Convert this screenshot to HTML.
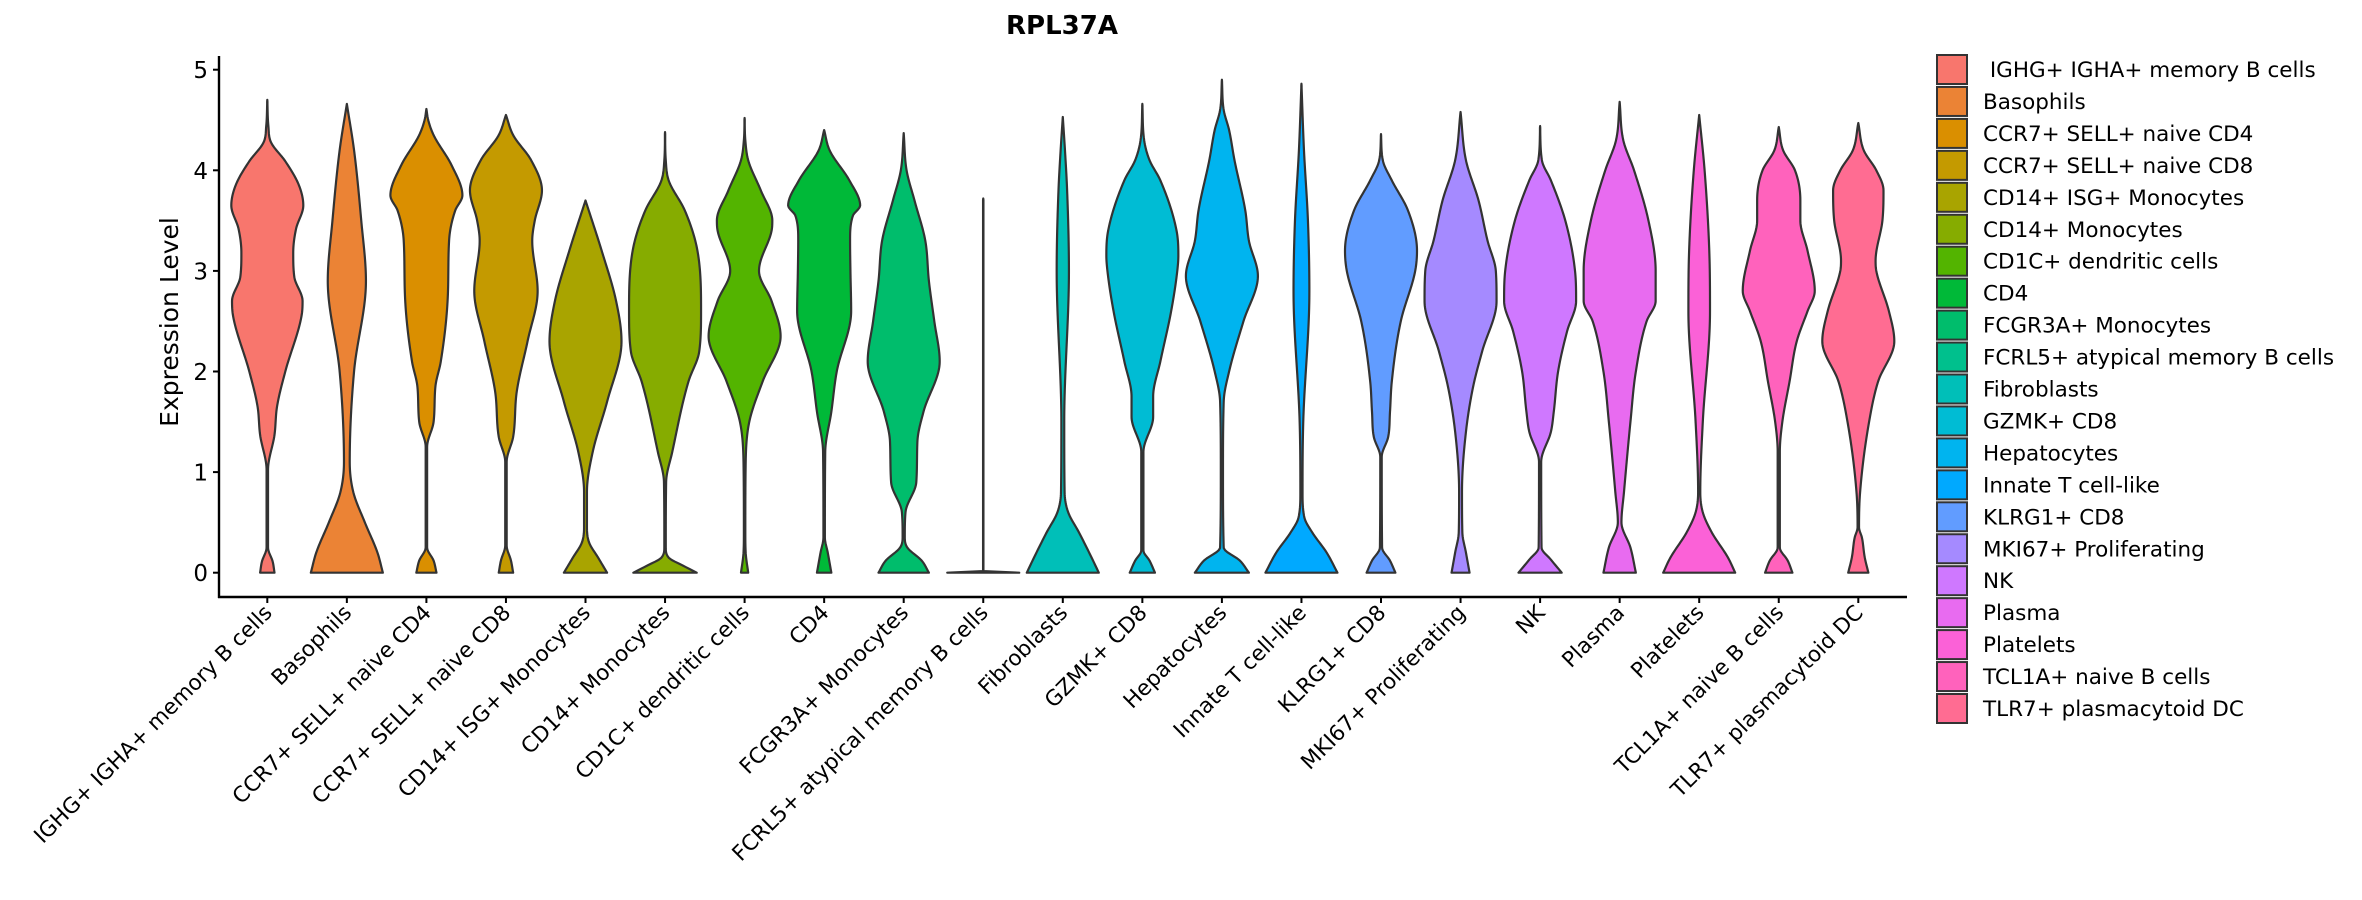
<!DOCTYPE html>
<html><head><meta charset="utf-8"><style>
html,body{margin:0;padding:0;background:#fff;}
svg{display:block;font-family:"DejaVu Sans","Liberation Sans",sans-serif;}
</style></head><body>
<svg id="chart" width="2362" height="900" viewBox="0 0 2362 900" xmlns="http://www.w3.org/2000/svg">
<text x="1062" y="34" text-anchor="middle" font-size="26" font-weight="bold" fill="#000">RPL37A</text>
<text transform="translate(178,322) rotate(-90)" text-anchor="middle" font-size="25" fill="#000">Expression Level</text>
<g id="plot"></g>
<g id="legend"></g>
</svg>
<script>
const categories = [" IGHG+ IGHA+ memory B cells","Basophils","CCR7+ SELL+ naive CD4","CCR7+ SELL+ naive CD8","CD14+ ISG+ Monocytes","CD14+ Monocytes","CD1C+ dendritic cells","CD4","FCGR3A+ Monocytes","FCRL5+ atypical memory B cells","Fibroblasts","GZMK+ CD8","Hepatocytes","Innate T cell-like","KLRG1+ CD8","MKI67+ Proliferating","NK","Plasma","Platelets","TCL1A+ naive B cells","TLR7+ plasmacytoid DC"];
const colors = ["#F8766D","#EB8335","#DA8F00","#C49A00","#A9A400","#86AC00","#53B400","#00B938","#00BD6C","#00C08D","#00BFB8","#00BCD4","#00B4EF","#00A9FF","#619CFF","#A58AFF","#CF78FF","#E86BF0","#FB61D7","#FF62BC","#FF6C92"];
const yTicks = [0,1,2,3,4,5];
// density profiles: [expression value, relative half-width]
const profiles = [
 [[0,.2],[.11,.15],[.25,.02],[1.02,.02],[1.37,.2],[1.65,.27],[2,.5],[2.55,.95],[2.7,.98],[2.94,.75],[3.18,.72],[3.42,.8],[3.65,1],[3.85,.88],[4.09,.5],[4.28,.1],[4.44,.03],[4.7,0]],
 [[0,1],[.2,.85],[.5,.5],[.8,.18],[1.1,.08],[2,.2],[2.9,.53],[3.5,.4],[4.2,.2],[4.66,0]],
 [[0,.28],[.12,.2],[.25,.02],[1.25,.02],[1.5,.2],[1.85,.25],[2.1,.4],[2.8,.6],[3.3,.63],[3.6,.8],[3.75,1],[4.05,.7],[4.35,.2],[4.5,.05],[4.61,0]],
 [[0,.2],[.12,.14],[.27,.02],[1.1,.02],[1.35,.2],[1.8,.3],[2.3,.6],[2.8,.88],[3.3,.73],[3.5,.8],[3.8,1],[4.1,.7],[4.35,.2],[4.55,0]],
 [[0,.6],[.15,.35],[.3,.1],[.45,.04],[.8,.04],[1.2,.2],[1.7,.6],[2.3,1],[2.7,.85],[3.2,.45],[3.7,0]],
 [[0,.88],[.07,.5],[.15,.1],[.25,.02],[.9,.03],[1.2,.2],[1.9,.65],[2.2,.95],[2.6,1],[3.2,.9],[3.6,.55],[3.9,.1],[4.1,.02],[4.38,0]],
 [[0,.1],[.2,.03],[.4,.02],[1.09,.03],[1.5,.13],[1.9,.5],[2.35,1],[2.7,.75],[3,.4],[3.4,.75],[3.5,.77],[3.8,.45],[4.1,.1],[4.3,.02],[4.52,0]],
 [[0,.2],[.2,.1],[.35,.02],[1.2,.03],[1.6,.2],[2,.35],[2.6,.75],[3,.73],[3.3,.72],[3.55,.8],[3.65,1],[3.9,.7],[4.2,.15],[4.4,0]],
 [[0,.7],[.12,.5],[.25,.1],[.35,.03],[.6,.05],[.9,.35],[1.3,.38],[1.6,.55],[2.1,1],[2.5,.85],[2.9,.7],[3.3,.6],[3.7,.3],[4,.08],[4.37,0]],
 [[0,1],[.005,.01],[.02,.005],[3.72,.005]],
 [[0,1],[.15,.8],[.4,.45],[.6,.15],[.8,.05],[1.5,.04],[3,.17],[3.8,.12],[4.2,.06],[4.53,0]],
 [[0,.35],[.12,.2],[.22,.03],[1.2,.03],[1.55,.3],[1.75,.3],[2.1,.5],[2.6,.8],[3,.97],[3.15,1],[3.4,.95],[3.9,.5],[4.1,.2],[4.3,.05],[4.66,0]],
 [[0,.75],[.12,.5],[.25,.05],[1,.03],[1.7,.05],[2,.2],[2.5,.6],[2.95,1],[3.3,.75],[3.6,.65],[4.1,.35],[4.4,.2],[4.6,.05],[4.9,0]],
 [[0,1],[.2,.7],[.4,.3],[.55,.08],[.8,.03],[1.5,.05],[2.8,.22],[3.5,.18],[4.2,.07],[4.86,0]],
 [[0,.4],[.12,.25],[.25,.03],[1.15,.02],[1.35,.2],[1.6,.25],[1.9,.3],[2.5,.55],[3,.95],[3.2,1],[3.6,.75],[3.9,.3],[4.1,.05],[4.36,0]],
 [[0,.25],[.2,.15],[.4,.05],[.8,.04],[1.4,.15],[1.85,.35],[2.2,.6],[2.7,1],[3,.98],[3.3,.75],[3.7,.5],[4.1,.15],[4.58,0]],
 [[0,.6],[.13,.3],[.25,.04],[1.1,.03],[1.4,.3],[1.6,.38],[2,.5],[2.4,.75],[2.7,1],[3,.97],[3.5,.7],[3.9,.3],[4.1,.05],[4.44,0]],
 [[0,.45],[.25,.3],[.5,.05],[.8,.12],[1.5,.3],[2,.45],[2.5,.75],[2.7,1],[3,1],[3.5,.8],[4,.4],[4.3,.1],[4.68,0]],
 [[0,1],[.15,.8],[.4,.35],[.6,.1],[.8,.03],[1.5,.1],[2.6,.3],[3.2,.28],[4,.15],[4.55,0]],
 [[0,.38],[.12,.25],[.25,.03],[1.2,.03],[1.5,.1],[1.9,.3],[2.3,.5],[2.6,.8],[2.8,1],[3.2,.8],[3.5,.6],[3.7,.6],[4,.45],[4.2,.12],[4.43,0]],
 [[0,.28],[.15,.18],[.35,.1],[.45,.02],[.8,.05],[1.5,.3],[1.9,.55],[2.3,1],[2.6,.85],[3,.5],[3.1,.48],[3.5,.67],[3.8,.7],[4,.5],[4.2,.15],[4.47,0]]
];
const NS="http://www.w3.org/2000/svg";
const X0=219, XEND=1907, Y0=572.7, PXU=100.6, FIRST=267.3, STEP=79.55, HALF=36, AXY=597, AXTOP=56;
function xPos(i){return FIRST+i*STEP;}
function yPos(v){return Y0-v*PXU;}
function mk(tag,attrs,parent){const e=document.createElementNS(NS,tag);for(const k in attrs)e.setAttribute(k,attrs[k]);parent.appendChild(e);return e;}
function monotone(pts){
  const n=pts.length,xs=pts.map(p=>p[0]),ys=pts.map(p=>p[1]);
  const d=[],m=new Array(n);
  for(let i=0;i<n-1;i++)d.push((ys[i+1]-ys[i])/(xs[i+1]-xs[i]));
  m[0]=d[0];m[n-1]=d[n-2];
  for(let i=1;i<n-1;i++){m[i]=(d[i-1]*d[i]<=0)?0:(d[i-1]+d[i])/2;}
  for(let i=0;i<n-1;i++){if(d[i]===0){m[i]=0;m[i+1]=0;continue;}const a=m[i]/d[i],b=m[i+1]/d[i],s=a*a+b*b;if(s>9){const t=3/Math.sqrt(s);m[i]=t*a*d[i];m[i+1]=t*b*d[i];}}
  return function(x){let i=0;while(i<n-2&&x>xs[i+1])i++;const h=xs[i+1]-xs[i],t=(x-xs[i])/h,t2=t*t,t3=t2*t;
    return (2*t3-3*t2+1)*ys[i]+(t3-2*t2+t)*h*m[i]+(-2*t3+3*t2)*ys[i+1]+(t3-t2)*h*m[i+1];};
}
const plot=document.getElementById('plot');
profiles.forEach((prof,i)=>{
  const f=monotone(prof),vmax=prof[prof.length-1][0],cx=xPos(i);
  const N=240,left=[],right=[];
  for(let k=0;k<=N;k++){const v=vmax*k/N;let w=Math.max(0,Math.min(1,f(v)));w=Math.max(w,0.004);if(k===N)w=0;
    right.push([cx+w*HALF,yPos(v)]);left.push([cx-w*HALF,yPos(v)]);}
  const pts=right.concat(left.reverse());
  const el=mk('path',{d:'M'+pts.map(p=>p[0].toFixed(2)+','+p[1].toFixed(2)).join('L')+'Z',fill:colors[i],stroke:'#333','stroke-width':2.2,'stroke-linejoin':'round'},plot);
  
  
});
const ya=mk('line',{x1:X0,y1:AXTOP,x2:X0,y2:AXY+1,stroke:'#000','stroke-width':2.4},plot);


const xa=mk('line',{x1:X0-1,y1:AXY,x2:XEND,y2:AXY,stroke:'#000','stroke-width':2.4},plot);


yTicks.forEach(t=>{
  const y=yPos(t);
  const tl=mk('line',{x1:X0-6,y1:y,x2:X0,y2:y,stroke:'#000','stroke-width':2},plot);
  
  
  const tx=mk('text',{x:X0-11,y:y+8.5,'text-anchor':'end','font-size':23,fill:'#000'},plot);
  tx.textContent=t;
  
  
});
categories.forEach((c,i)=>{
  const x=xPos(i);
  const tl=mk('line',{x1:x,y1:AXY,x2:x,y2:AXY+6,stroke:'#000','stroke-width':2},plot);
  
  
  const tx=mk('text',{transform:`translate(${x+6},${AXY+17}) rotate(-45)`,'text-anchor':'end','font-size':21.5,fill:'#000'},plot);
  tx.textContent=c.trim();
  
  
});
const lg=document.getElementById('legend');
categories.forEach((c,i)=>{
  const y=55+i*31.95;
  const r=mk('rect',{x:1937,y:y,width:30,height:29,fill:colors[i],stroke:'#333','stroke-width':2},lg);
  
  
  const t=mk('text',{x:1983,y:y+22,'font-size':21.5,fill:'#000',style:'white-space:pre'},lg);
  t.textContent=c;
  
  
});
</script>
</body></html>
